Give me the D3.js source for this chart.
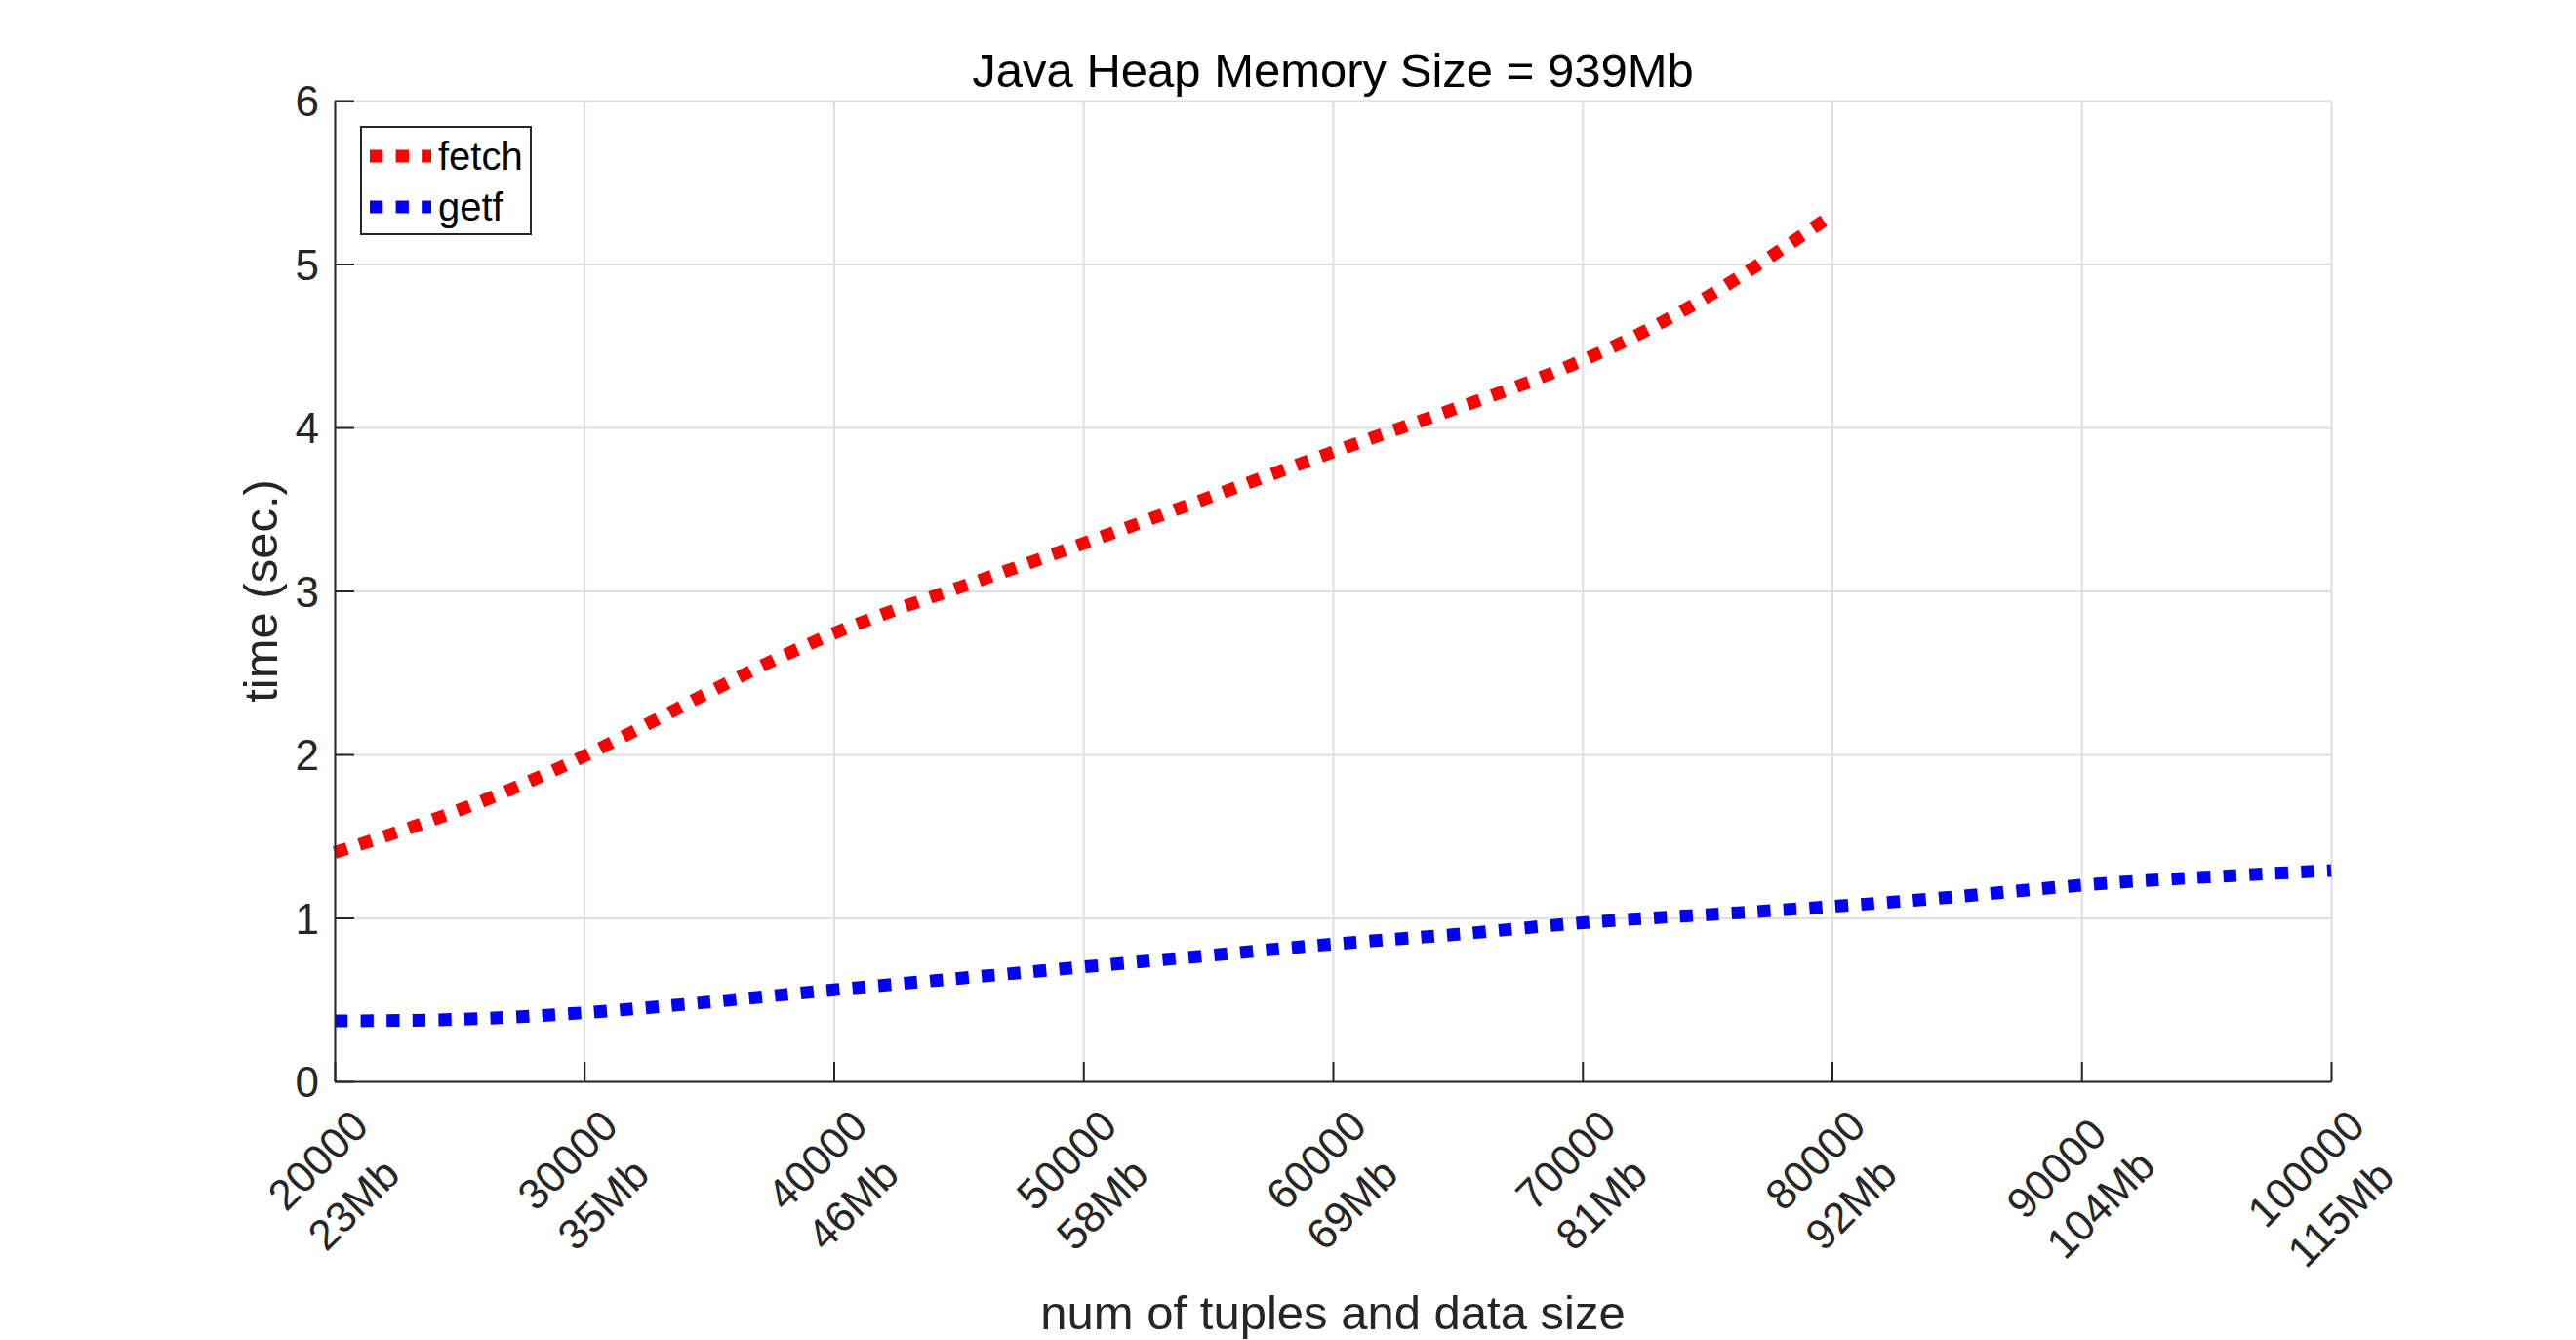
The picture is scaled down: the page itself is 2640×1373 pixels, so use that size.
<!DOCTYPE html>
<html>
<head>
<meta charset="utf-8">
<script src="https://d3js.org/d3.v7.min.js"></script>
<style>
  html, body { margin: 0; padding: 0; background: #fff; }
  svg { display: block; font-family: "Liberation Sans", Arial, sans-serif; }
</style>
</head>
<body>
<div id="chart"></div>
<script>
// tick values / labels
const tupleTicks = [20000, 30000, 40000, 50000, 60000, 70000, 80000, 90000, 100000];
const sizeLabels = ['23Mb', '35Mb', '46Mb', '58Mb', '69Mb', '81Mb', '92Mb', '104Mb', '115Mb'];
const timeTicks = [0, 1, 2, 3, 4, 5, 6];

// series (every 5000 tuples)
const fetchTuples = [20000, 25000, 30000, 35000, 40000, 45000, 50000, 55000, 60000, 65000, 70000, 75000, 80000];
const fetchTimes = [1.40, 1.66, 1.99, 2.38, 2.74, 3.02, 3.29, 3.57, 3.85, 4.12, 4.41, 4.80, 5.30];
const getfTuples = [20000, 25000, 30000, 35000, 40000, 45000, 50000, 55000, 60000, 65000, 70000, 75000, 80000, 85000, 90000, 95000, 100000];
const getfTimes = [0.37, 0.38, 0.42, 0.485, 0.56, 0.63, 0.70, 0.77, 0.84, 0.90, 0.97, 1.02, 1.07, 1.13, 1.20, 1.25, 1.29];

const W = 2640, H = 1373;
const plotLeft = 343, plotRight = 2389, plotTop = 103, plotBottom = 1108;
const axisColor = '#262626';
const gridColor = '#dfdfdf';

const svg = d3.select('#chart').append('svg')
  .attr('width', W).attr('height', H);

svg.append('rect').attr('width', W).attr('height', H).attr('fill', '#fff');

const x = d3.scaleLinear().domain([20000, 100000]).range([plotLeft, plotRight]);
const y = d3.scaleLinear().domain([0, 6]).range([plotBottom, plotTop]);

// grid
const gx = svg.append('g')
  .attr('transform', `translate(0,${plotBottom})`)
  .call(d3.axisBottom(x).tickValues(tupleTicks).tickSize(-(plotBottom - plotTop)).tickFormat(''));
const gy = svg.append('g')
  .attr('transform', `translate(${plotLeft},0)`)
  .call(d3.axisLeft(y).tickValues(timeTicks).tickSize(-(plotRight - plotLeft)).tickFormat(''));
[gx, gy].forEach((g) => {
  g.select('.domain').remove();
  g.selectAll('line').attr('stroke', gridColor).attr('stroke-width', 2);
});

// series
const line = d3.line()
  .x((d) => x(d[0]))
  .y((d) => y(d[1]))
  .curve(d3.curveNatural);

const series = [
  { name: 'fetch', color: '#ff0000', pts: d3.zip(fetchTuples, fetchTimes) },
  { name: 'getf', color: '#0000ff', pts: d3.zip(getfTuples, getfTimes) },
];

svg.selectAll('path.series')
  .data(series)
  .enter()
  .append('path')
  .attr('class', 'series')
  .attr('d', (d) => line(d.pts))
  .attr('fill', 'none')
  .attr('stroke', (d) => d.color)
  .attr('stroke-width', 13)
  .attr('stroke-dasharray', '13.3 13.3');

// axes
const ax = svg.append('g')
  .attr('transform', `translate(0,${plotBottom})`)
  .call(d3.axisBottom(x).tickValues(tupleTicks).tickSizeInner(-20).tickSizeOuter(0).tickFormat(''));
const ay = svg.append('g')
  .attr('transform', `translate(${plotLeft},0)`)
  .call(d3.axisLeft(y).tickValues(timeTicks).tickSizeInner(-20).tickSizeOuter(0)
    .tickPadding(16).tickFormat(d3.format('d')));
[ax, ay].forEach((g) => {
  g.select('.domain').attr('stroke', axisColor).attr('stroke-width', 2);
  g.selectAll('.tick line').attr('stroke', axisColor).attr('stroke-width', 2);
});
ay.selectAll('.tick text')
  .attr('font-size', 44)
  .attr('fill', axisColor)
  .attr('dy', '0.36em')
  .attr('font-family', '"Liberation Sans", Arial, sans-serif');

// rotated two-line x tick labels
const xl = svg.append('g')
  .selectAll('g')
  .data(tupleTicks)
  .enter()
  .append('g')
  .attr('transform', (d) => `translate(${x(d)},${plotBottom}) rotate(-45)`);

xl.each(function (d, i) {
  const g = d3.select(this);
  const t1 = g.append('text').text(d3.format('d')(d)).attr('y', 60);
  const t2 = g.append('text').text(sizeLabels[i]).attr('y', 118);
  g.selectAll('text').attr('font-size', 44).attr('fill', axisColor);
  const w = Math.max(t1.node().getComputedTextLength(), t2.node().getComputedTextLength());
  g.selectAll('text').attr('x', -8 - w);
});

// title and labels
svg.append('text')
  .attr('x', (plotLeft + plotRight) / 2)
  .attr('y', 89)
  .attr('text-anchor', 'middle')
  .attr('font-size', 49)
  .attr('fill', '#000')
  .text('Java Heap Memory Size = 939Mb');

svg.append('text')
  .attr('x', (plotLeft + plotRight) / 2)
  .attr('y', 1362)
  .attr('text-anchor', 'middle')
  .attr('font-size', 49)
  .attr('fill', axisColor)
  .text('num of tuples and data size');

svg.append('text')
  .attr('transform', `translate(284,${(plotTop + plotBottom) / 2}) rotate(-90)`)
  .attr('text-anchor', 'middle')
  .attr('font-size', 49)
  .attr('fill', axisColor)
  .text('time (sec.)');

// legend
const lg = svg.append('g');
lg.append('rect')
  .attr('x', 370).attr('y', 130)
  .attr('width', 174).attr('height', 110)
  .attr('fill', '#fff')
  .attr('stroke', axisColor)
  .attr('stroke-width', 2);

const items = lg.selectAll('g.item')
  .data(series)
  .enter()
  .append('g')
  .attr('class', 'item')
  .attr('transform', (d, i) => `translate(0,${160 + i * 52})`);

items.append('line')
  .attr('x1', 379).attr('x2', 442)
  .attr('stroke', (d) => d.color)
  .attr('stroke-width', 13)
  .attr('stroke-dasharray', '13.3 13.3');

items.append('text')
  .attr('x', 449)
  .attr('y', 14)
  .attr('font-size', 40)
  .attr('fill', '#000')
  .text((d) => d.name);
</script>
</body>
</html>
